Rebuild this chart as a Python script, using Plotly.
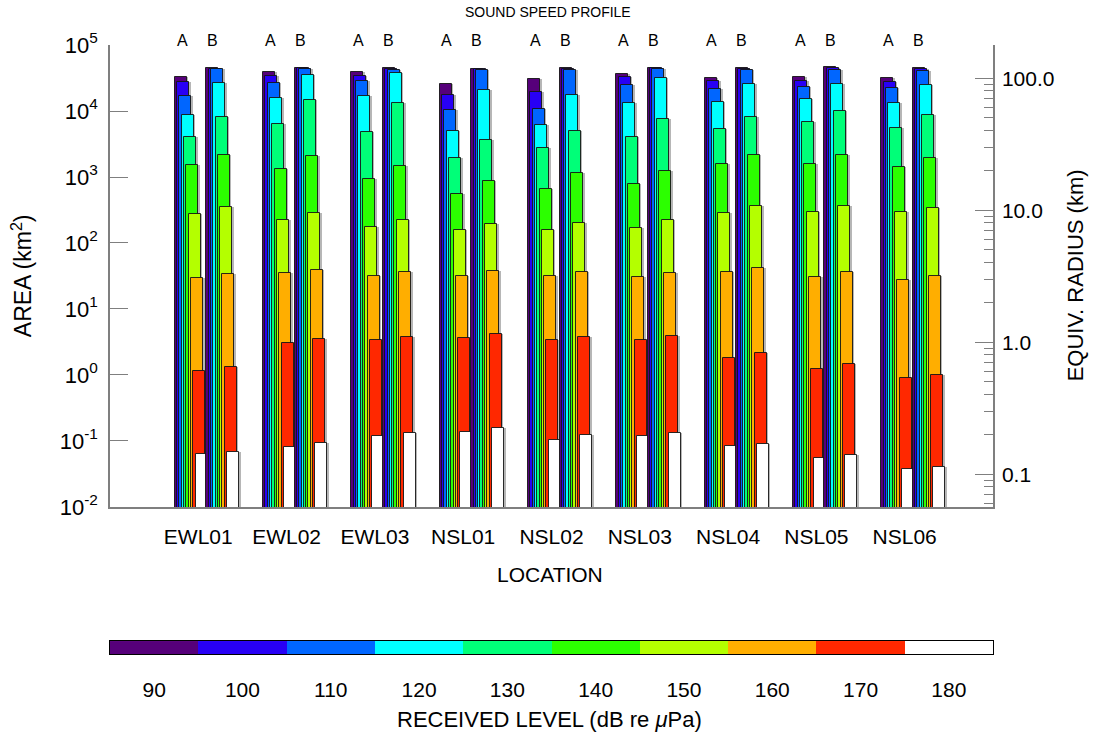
import math
import plotly.graph_objects as go

# Locations along the x axis
locations = ["EWL01", "EWL02", "EWL03", "NSL01", "NSL02",
             "NSL03", "NSL04", "NSL05", "NSL06"]

# Received-level bins (dB re uPa) and their colours
levels = [90, 100, 110, 120, 130, 140, 150, 160, 170, 180]
level_colors = ["#56007a", "#2800f5", "#0066ff", "#00ffff", "#00ff78",
                "#2cff00", "#b4ff00", "#ffae00", "#ff2800", "#ffffff"]

# Ensonified area (km^2) above each level, profile A
area_a = [
    [33100, 27500, 16900, 8710, 4070, 1500, 278, 29.2, 1.14, 0.0635],   # EWL01
    [38500, 33900, 26900, 15900, 6430, 1340, 221, 34.8, 3.08, 0.0802],  # EWL02
    [38500, 34300, 28800, 17100, 4860, 933, 177, 31.3, 3.39, 0.119],    # EWL03
    [25900, 17700, 10500, 5040, 1940, 558, 157, 32.0, 3.68, 0.137],     # NSL01
    [30500, 19200, 10600, 6140, 2750, 665, 157, 31.6, 3.39, 0.102],     # NSL02
    [36800, 32400, 25100, 13400, 3990, 774, 171, 30.9, 3.39, 0.121],    # NSL03
    [32000, 28100, 21300, 13800, 5330, 1560, 288, 36.8, 1.81, 0.0849],  # NSL04
    [33100, 28800, 22900, 15200, 6810, 1560, 295, 30.2, 1.25, 0.0547],  # NSL05
    [32000, 27800, 22000, 13100, 5460, 1440, 292, 27.5, 0.912, 0.0377], # NSL06
]

# Ensonified area (km^2) above each level, profile B
area_b = [
    [44300, 43800, 42800, 26200, 8020, 2180, 355, 33.9, 1.34, 0.0673],  # EWL01
    [45400, 44300, 42800, 35100, 14700, 2060, 282, 39.0, 3.55, 0.0923], # EWL02
    [44900, 43300, 41800, 38100, 13400, 1470, 221, 36.0, 3.81, 0.131],  # EWL03
    [43800, 42800, 41800, 20800, 3640, 879, 194, 37.2, 4.13, 0.156],    # NSL01
    [45400, 43300, 41800, 17300, 4920, 1140, 203, 36.4, 3.81, 0.122],   # NSL02
    [44900, 44300, 43300, 32000, 7480, 1220, 221, 34.8, 3.85, 0.132],   # NSL03
    [44900, 43300, 41300, 25600, 8020, 2130, 364, 41.3, 2.13, 0.0912],  # NSL04
    [45900, 44300, 41800, 25900, 10100, 2150, 368, 36.0, 1.49, 0.0607], # NSL05
    [44900, 43300, 40800, 25100, 8690, 1960, 343, 32.0, 0.989, 0.0404], # NSL06
]

profiles = [("A", area_a), ("B", area_b)]

FONT = "Liberation Sans, Arial, Helvetica, sans-serif"

# Geometry of the staircase of bars (in x-axis units; one location = 1 unit)
PX = 1.0 / 88.3
bar_w = 12 * PX
step = 2.3 * PX
group_left = {"A": -23.5 * PX, "B": 8.0 * PX}
shadow_dx = 1.6 * PX

fig = go.Figure()

for name, table in profiles:
    for k, lev in enumerate(levels):
        xs = [i + 1 + group_left[name] + k * step + bar_w / 2
              for i in range(len(locations))]
        ys = [row[k] for row in table]
        # soft drop shadow on the right of each bar
        fig.add_trace(go.Bar(
            x=[x + shadow_dx for x in xs], y=ys, width=bar_w,
            marker=dict(color="rgba(110,110,110,0.5)", line=dict(width=0)),
            hoverinfo="skip", showlegend=False,
        ))
        fig.add_trace(go.Bar(
            x=xs, y=ys, width=bar_w,
            marker=dict(color=level_colors[k],
                        line=dict(color="rgba(20,20,20,0.9)", width=1)),
            name=f"{name} {lev} dB", showlegend=False,
        ))

# invisible anchor so the equivalent-radius axis is drawn
fig.add_trace(go.Scatter(x=[0.5], y=[1.0], yaxis="y2", mode="markers",
                         marker=dict(opacity=0), hoverinfo="skip",
                         showlegend=False))

# colour key for received level
fig.add_trace(go.Heatmap(
    x=levels, y=[0], z=[list(range(len(levels)))],
    zmin=-0.5, zmax=len(levels) - 0.5,
    colorscale=[[s, c] for j, c in enumerate(level_colors)
                for s in (j / len(levels), (j + 1) / len(levels))],
    showscale=False, xaxis="x3", yaxis="y3", hoverinfo="skip",
))

# Area axis range and the matching equivalent radius r = sqrt(A / pi)
area_lo, area_hi = -2, 5
r_lo = 0.5 * (area_lo - math.log10(math.pi))
r_hi = 0.5 * (area_hi - math.log10(math.pi))
minor_r = [m * 10 ** d for d in range(-2, 3) for m in range(2, 10)]
minor_r = [v for v in minor_r if r_lo < math.log10(v) < r_hi]

area_ticks = [10.0 ** p for p in range(area_lo, area_hi + 1)]
area_text = [f"10<sup>{p}</sup>" for p in range(area_lo, area_hi + 1)]

AX = "#7f7f7f"
fig.update_layout(
    width=1095, height=736,
    margin=dict(l=110, r=102, t=45, b=82),
    paper_bgcolor="white", plot_bgcolor="white",
    barmode="overlay", bargap=0,
    font=dict(family=FONT, color="black", size=21),
    xaxis=dict(domain=[0, 1], range=[0, 10], tickvals=list(range(1, 10)),
               ticktext=locations, ticks="", showgrid=False, zeroline=False,
               showline=True, linecolor=AX, linewidth=1.5,
               tickfont=dict(size=21), ticklabelstandoff=10, anchor="y"),
    yaxis=dict(domain=[0.2414, 1], type="log", range=[area_lo, area_hi],
               tickvals=area_ticks, ticktext=area_text, ticks="inside",
               ticklen=18, tickcolor=AX, tickwidth=1.2, showgrid=False,
               zeroline=False, showline=True, linecolor=AX, linewidth=1.5,
               tickfont=dict(size=22), ticklabelstandoff=6, anchor="x"),
    yaxis2=dict(overlaying="y", side="right", type="log", range=[r_lo, r_hi],
                tickvals=[0.1, 1, 10, 100],
                ticktext=["0.1", "1.0", "10.0", "100.0"],
                ticks="inside", ticklen=18, tickcolor=AX, tickwidth=1.2,
                minor=dict(tickmode="array", tickvals=minor_r, ticks="inside",
                           ticklen=9, tickcolor=AX, tickwidth=1.2,
                           showgrid=False),
                showgrid=False, zeroline=False, showline=True,
                linecolor=AX, linewidth=1.5, tickfont=dict(size=21),
                ticklabelstandoff=3, anchor="x"),
    xaxis3=dict(domain=[0, 1], range=[85, 185], tickvals=levels,
                ticks="", showgrid=False, zeroline=False, showline=True,
                mirror=True, linecolor="black", linewidth=1,
                tickfont=dict(size=21), ticklabelstandoff=17, anchor="y3"),
    yaxis3=dict(domain=[0, 0.0213], range=[-0.5, 0.5], showticklabels=False,
                ticks="", showgrid=False, zeroline=False, showline=True,
                mirror=True, linecolor="black", linewidth=1, anchor="x3"),
)

annotations = [
    dict(text="SOUND SPEED PROFILE", x=0.496, y=1.054, font=dict(size=14)),
    dict(text="LOCATION", x=0.498, y=0.131, font=dict(size=21)),
    dict(text="RECEIVED LEVEL (dB re <i>\u03bc</i>Pa)", x=0.498, y=-0.108,
         font=dict(size=22)),
    dict(text="AREA (km<sup>2</sup>)", x=-0.0997, y=0.622, textangle=-90,
         font=dict(size=23)),
    dict(text="EQUIV. RADIUS (km)", x=1.093, y=0.622, textangle=-90,
         font=dict(size=22)),
]
for i in range(len(locations)):
    for name, dx in (("A", -16.3), ("B", 13.7)):
        annotations.append(dict(text=name, x=(i + 1 + dx * PX) / 10,
                                y=1.008, font=dict(size=16)))
for a in annotations:
    a.update(xref="paper", yref="paper", showarrow=False,
             xanchor="center", yanchor="middle")
fig.update_layout(annotations=annotations)

fig.write_html("out.html")
